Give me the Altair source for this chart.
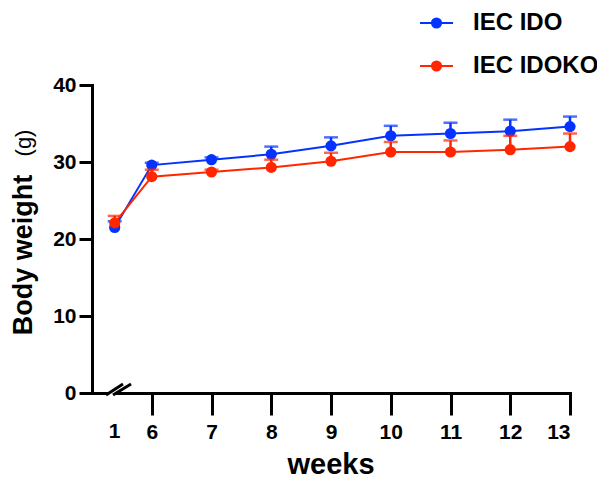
import altair as alt
import pandas as pd

# ---- data ----
weeks = [1, 6, 7, 8, 9, 10, 11, 12, 13]
ido_mean = [21.5, 29.6, 30.3, 31.0, 32.1, 33.4, 33.7, 34.0, 34.6]
ido_sem = [0.8, 0.3, 0.3, 1.0, 1.1, 1.3, 1.4, 1.5, 1.3]
idoko_mean = [22.1, 28.1, 28.7, 29.3, 30.1, 31.3, 31.3, 31.6, 32.0]
idoko_sem = [0.9, 0.9, 0.3, 1.0, 1.1, 1.3, 1.5, 1.8, 1.7]
groups = ["IEC IDO", "IEC IDOKO"]
colors = ["#0433FF", "#FF2600"]
x_ticks = [6, 7, 8, 9, 10, 11, 12, 13]
y_ticks = [0, 10, 20, 30, 40]

rows = []
for g, means, sems in ((groups[0], ido_mean, ido_sem), (groups[1], idoko_mean, idoko_sem)):
    for w, m, s in zip(weeks, means, sems):
        rows.append({"week": w, "group": g, "mean": m, "upper": m + s})
df = pd.DataFrame(rows)

FONT = "Liberation Sans"
BREAK_POS = 5.38  # where week 1 sits, left of the axis break

W, H = 478, 308

xsc = alt.Scale(domain=[5, 13], nice=False, zero=False)
ysc = alt.Scale(domain=[0, 40], nice=False, zero=True)
x_enc = alt.X(
    "xpos:Q", scale=xsc,
    axis=alt.Axis(values=x_ticks, tickSize=22, tickWidth=3, tickColor="black",
                  domainWidth=3, domainColor="black", domainCap="square",
                  labelFontSize=21, labelFontWeight="bold", labelColor="black",
                  labelPadding=6, labelFont=FONT, title=None, grid=False, format="d"),
)
y_enc = alt.Y(
    "mean:Q", scale=ysc,
    axis=alt.Axis(values=y_ticks, tickSize=13, tickWidth=3, tickColor="black",
                  domainWidth=3, domainColor="black", domainCap="square",
                  labelFontSize=21, labelFontWeight="bold", labelColor="black",
                  labelPadding=3, labelFont=FONT, title=None, grid=False),
)
color = alt.Color("group:N", scale=alt.Scale(domain=groups, range=colors), legend=None)

base = alt.Chart(df).transform_calculate(
    xpos=f"datum.week == 1 ? {BREAK_POS} : datum.week"
)

layers = []
for g in groups:
    b = base.transform_filter(alt.datum.group == g)
    layers.append(b.mark_line(strokeWidth=2).encode(x=x_enc, y=y_enc, color=color, order="xpos:Q"))
    layers.append(b.mark_rule(strokeWidth=2.5).encode(x=x_enc, y=y_enc, y2="upper:Q", color=color))
    layers.append(b.mark_tick(orient="horizontal", size=14, thickness=2.5).encode(
        x=x_enc, y=alt.Y("upper:Q", scale=ysc), color=color))
    layers.append(b.mark_point(filled=True, opacity=1, size=125, shape="circle").encode(
        x=x_enc, y=y_enc, color=color))

# week-1 label (no tick, beyond the break)
layers.append(
    base.transform_filter(alt.datum.week == 1).transform_filter(alt.datum.group == groups[0])
    .mark_text(font=FONT, fontSize=21, fontWeight="bold", baseline="top", align="center", color="black")
    .encode(x=x_enc, y=alt.value(H + 28), text=alt.Text("week:Q", format="d"))
)

# axis break marks
brk = alt.Chart(pd.DataFrame({"k": [0]}))
layers.append(brk.mark_rule(color="white", strokeWidth=5).encode(
    x=alt.value(17.5), x2=alt.value(35), y=alt.value(H + 2), y2=alt.value(H - 9)))
layers.append(brk.mark_rule(color="black", strokeWidth=3).encode(
    x=alt.value(14), x2=alt.value(31), y=alt.value(H + 2), y2=alt.value(H - 9)))
layers.append(brk.mark_rule(color="black", strokeWidth=3).encode(
    x=alt.value(21), x2=alt.value(39), y=alt.value(H + 2), y2=alt.value(H - 9)))

# axis titles
layers.append(brk.mark_text(font=FONT, fontSize=27, fontWeight="bold", angle=270,
                            align="center", baseline="middle", color="black", text="Body weight")
              .encode(x=alt.value(-68), y=alt.value(170)))
layers.append(brk.mark_text(font=FONT, fontSize=22, fontWeight="normal", angle=270,
                            align="center", baseline="middle", color="black", text="(g)")
              .encode(x=alt.value(-68), y=alt.value(58)))
layers.append(brk.mark_text(font=FONT, fontSize=29, fontWeight="bold",
                            align="center", baseline="alphabetic", color="black", text="weeks")
              .encode(x=alt.value(W / 2), y=alt.value(H + 81)))

# legend
leg = alt.Chart(pd.DataFrame({"group": groups}))
leg_y = [-62, -19]
for g, ly in zip(groups, leg_y):
    lb = leg.transform_filter(alt.datum.group == g)
    layers.append(lb.mark_rule(strokeWidth=2).encode(
        x=alt.value(328), x2=alt.value(361), y=alt.value(ly), color=color))
    layers.append(lb.mark_point(filled=True, opacity=1, size=125, shape="circle").encode(
        x=alt.value(344.5), y=alt.value(ly), color=color))
    layers.append(lb.mark_text(font=FONT, fontSize=24, fontWeight="bold", align="left",
                               baseline="middle", color="black").encode(
        x=alt.value(381), y=alt.value(ly), text="group:N"))

chart = alt.layer(*layers).properties(
    width=W, height=H,
    autosize=alt.AutoSizeParams(type="none"),
    padding={"left": 84, "top": 77, "right": 27, "bottom": 90},
).configure(font=FONT).configure_view(stroke=None)

chart.save("out.html", embed_options={"renderer": "svg", "actions": False})
